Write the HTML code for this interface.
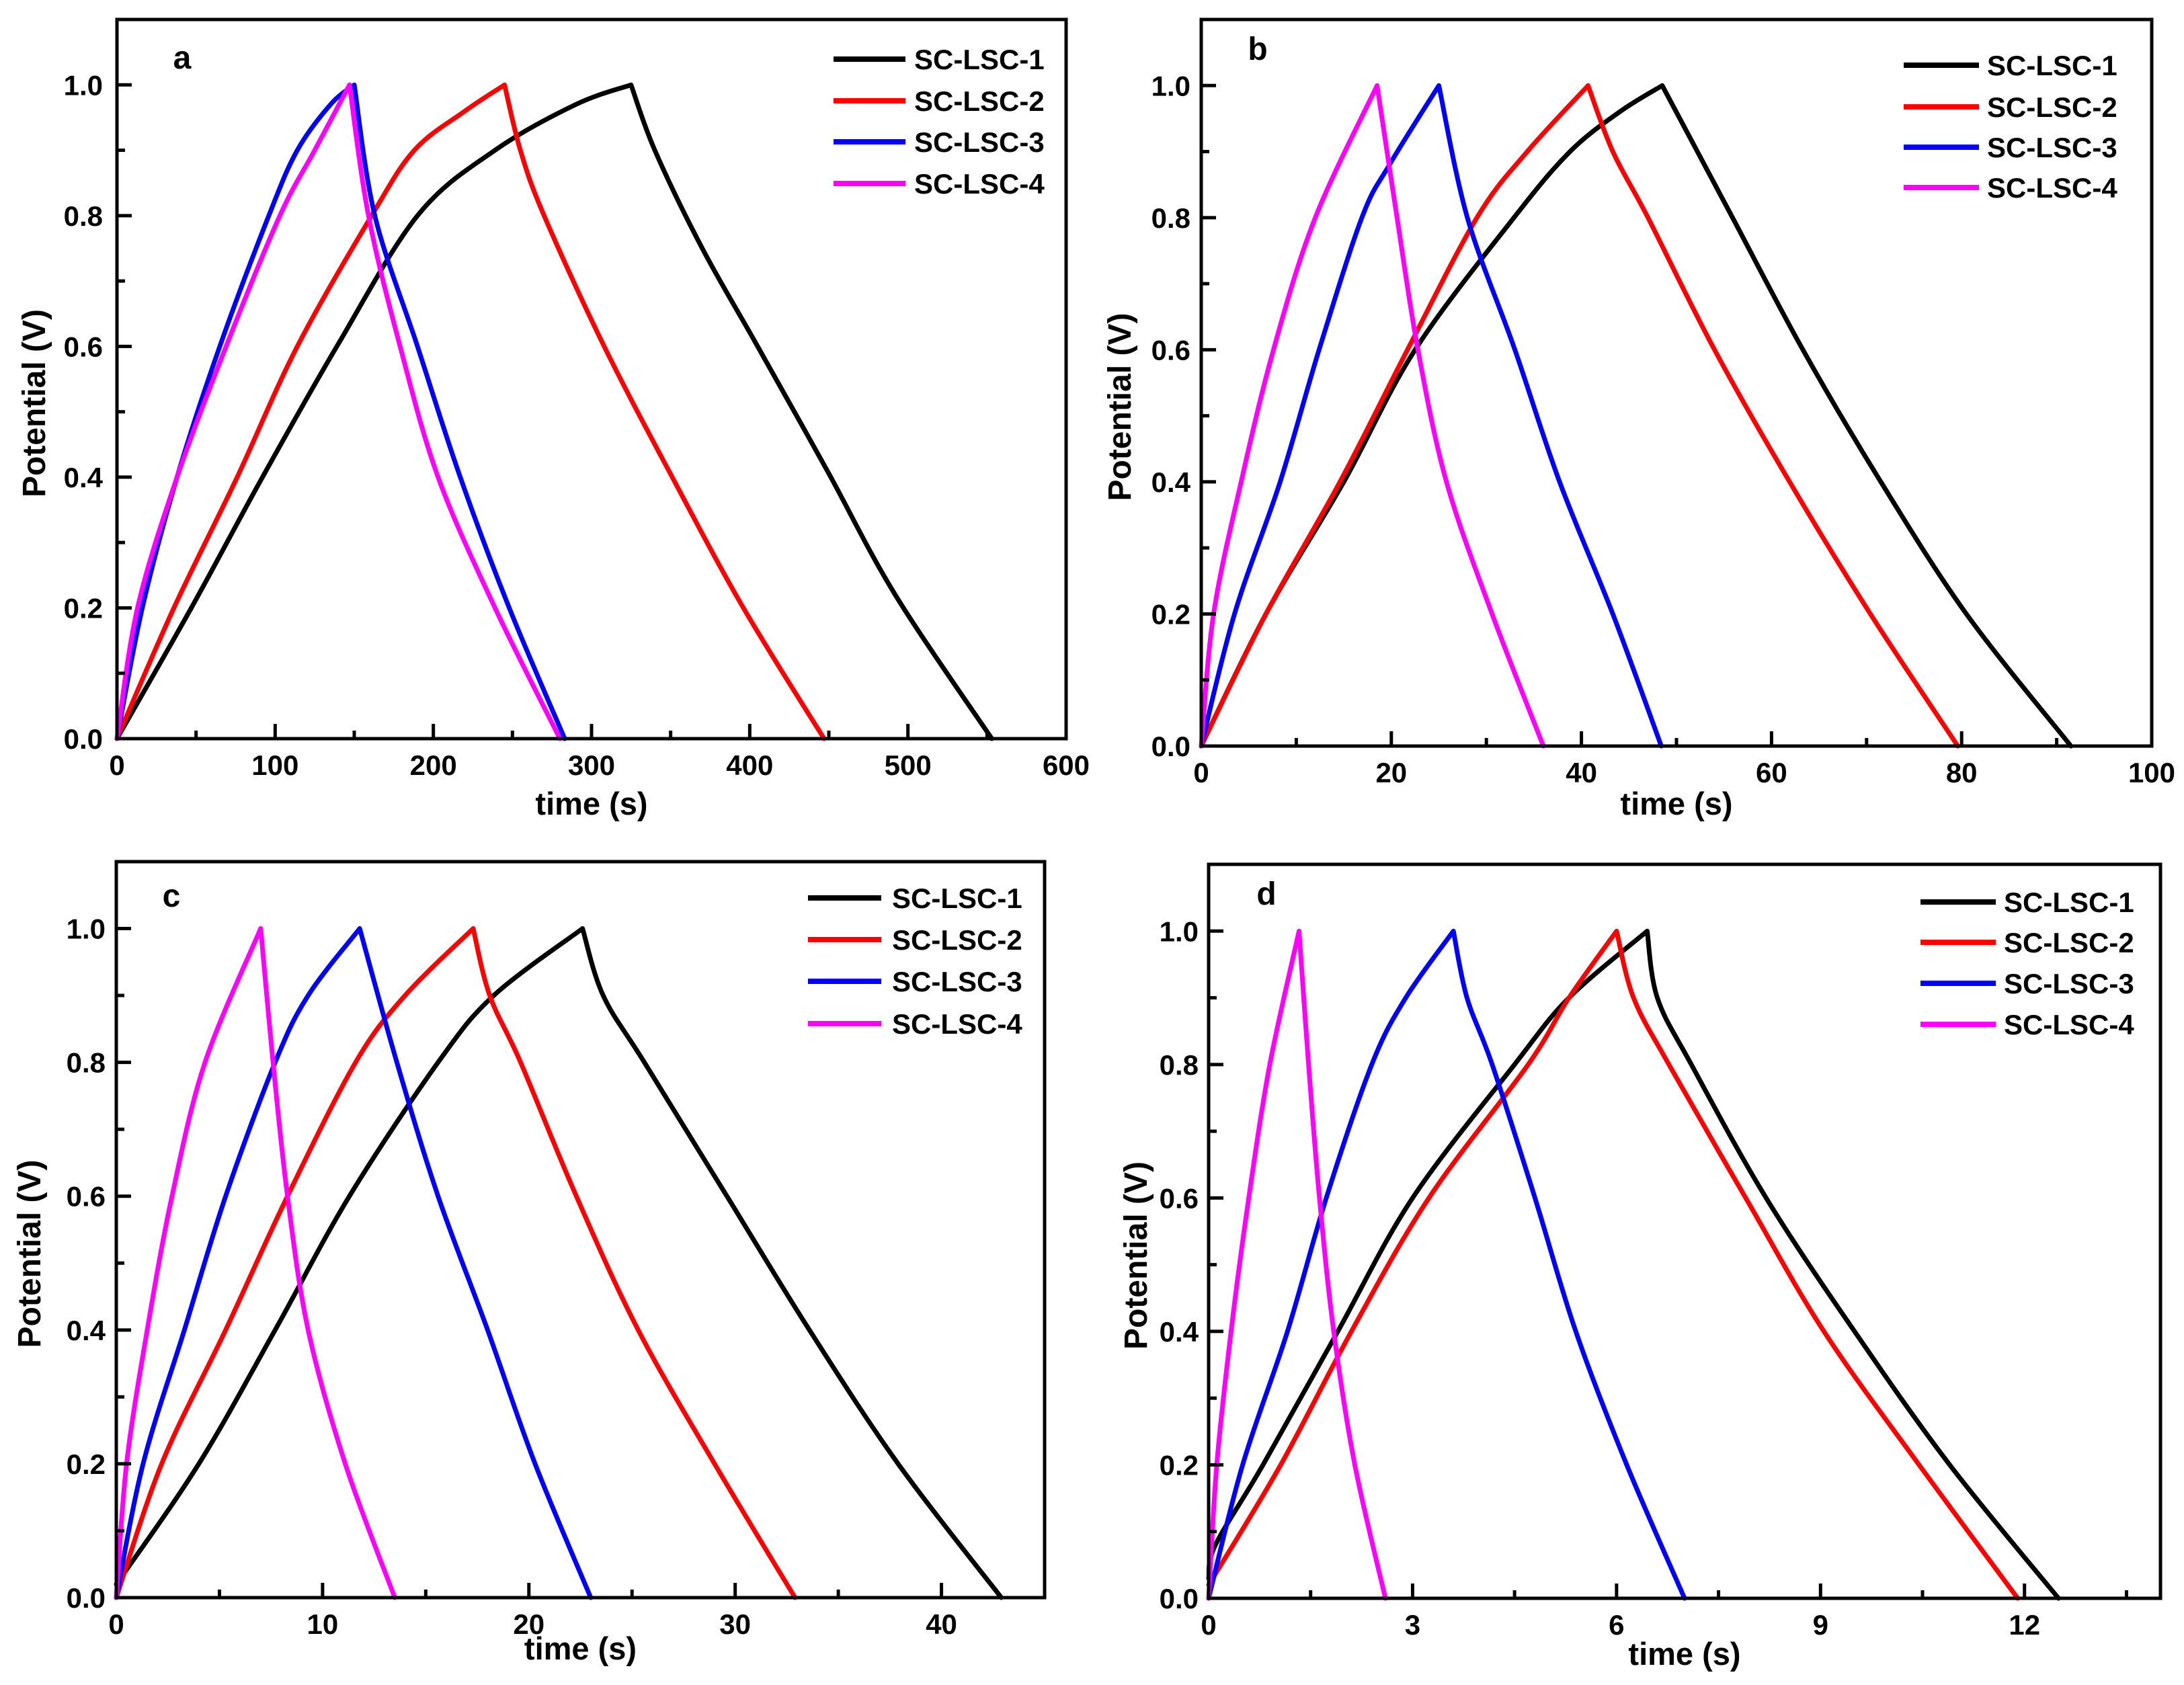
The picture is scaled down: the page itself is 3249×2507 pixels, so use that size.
<!DOCTYPE html>
<html><head><meta charset="utf-8"><style>
html,body{margin:0;padding:0;background:#fff;}
svg{display:block;font-family:"Liberation Sans",Arial,sans-serif;font-weight:bold;}
</style></head><body>
<svg id="fig" width="3249" height="2507" viewBox="0 0 3249 2507" xmlns="http://www.w3.org/2000/svg"></svg>
<script>
// ---- Panel a data (time s, potential V)
const aS1t=[0,47,92,139,190,239,290,325,340,370,405,449,492,553];
const aS1v=[0,0.2,0.4,0.6,0.8,0.9,0.97,1,0.9,0.75,0.6,0.41,0.22,0];
const aS2t=[0,36,76,114,161,188,220,245,255,270,308,351,396,447];
const aS2v=[0,0.2,0.4,0.6,0.8,0.9,0.96,1,0.9,0.8,0.6,0.4,0.2,0];
const aS3t=[0,16,38,65,96,114,135,150,163,190,217,248,283];
const aS3v=[0,0.2,0.4,0.6,0.8,0.9,0.97,1,0.8,0.6,0.4,0.2,0];
const aS4t=[0,13,38,69,103,125,147,159,179,203,239,280];
const aS4v=[0,0.2,0.4,0.6,0.8,0.9,1,0.8,0.6,0.4,0.2,0];
// ---- Panel b
const bS1t=[0,6.8,15,22.5,32.9,38.8,44,48.5,52.2,55.9,63.3,71.5,80.5,91.5];
const bS1v=[0,0.2,0.4,0.6,0.8,0.9,0.96,1,0.9,0.8,0.6,0.4,0.2,0];
const bS2t=[0,6.8,14.6,21.7,29,34.3,40.7,43.3,47,54,61.9,70.4,79.6];
const bS2v=[0,0.2,0.4,0.6,0.8,0.9,1,0.9,0.8,0.6,0.4,0.2,0];
const bS3t=[0,3.5,8.3,12.4,16.9,19.8,25,28,33,37.7,43.3,48.4];
const bS3v=[0,0.2,0.4,0.6,0.8,0.88,1,0.8,0.6,0.4,0.2,0];
const bS4t=[0,1.3,4.2,7.6,12,18.5,20.6,22.8,25.8,30.6,36];
const bS4v=[0,0.2,0.4,0.6,0.8,1,0.8,0.6,0.4,0.2,0];
// ---- Panel c
const cS1t=[0,4,7.7,11.3,15.6,18.3,22.6,23.6,25.6,29.6,33.6,37.9,42.9];
const cS1v=[0.02,0.2,0.4,0.6,0.8,0.9,1,0.9,0.8,0.6,0.4,0.2,0];
const cS2t=[0,2.2,5.3,8.3,11.6,14,17.3,18.1,19.6,22.3,25.3,29,32.9];
const cS2v=[0,0.2,0.4,0.6,0.8,0.9,1,0.9,0.8,0.6,0.4,0.2,0];
const cS3t=[0,1.3,3.3,5.3,7.7,9.3,11.8,13.6,15.6,18,20.3,23];
const cS3v=[0,0.2,0.4,0.6,0.8,0.9,1,0.8,0.6,0.4,0.2,0];
const cS4t=[0,0.5,1.5,2.7,4.3,7,7.6,8.3,9.3,11.1,13.5];
const cS4v=[0,0.2,0.4,0.6,0.8,1,0.8,0.6,0.4,0.2,0];
// ---- Panel d
const dS1t=[0,0.1,0.8,1.9,3.0,4.5,5.3,6.45,6.6,7.1,8.2,9.5,10.9,12.5];
const dS1v=[0.03,0.08,0.2,0.4,0.6,0.8,0.9,1,0.9,0.8,0.6,0.4,0.2,0];
const dS2t=[0,1.06,2.1,3.24,4.7,5.3,6,6.25,6.77,7.9,9.05,10.45,11.9];
const dS2v=[0.02,0.2,0.4,0.6,0.8,0.9,1,0.9,0.8,0.6,0.4,0.2,0];
const dS3t=[0,0.5,1.16,1.73,2.4,2.9,3.6,3.8,4.17,4.8,5.4,6.15,7.0];
const dS3v=[0,0.2,0.4,0.6,0.8,0.9,1,0.9,0.8,0.6,0.4,0.2,0];
const dS4t=[0,0.12,0.33,0.59,0.9,1.33,1.47,1.63,1.84,2.15,2.6];
const dS4v=[0,0.2,0.4,0.6,0.8,1,0.8,0.6,0.4,0.2,0];
// ---- Axes ticks
const aXTicks=[0,100,200,300,400,500,600];
const bXTicks=[0,20,40,60,80,100];
const cXTicks=[0,10,20,30,40];
const dXTicks=[0,3,6,9,12];
const yTicks=[0.0,0.2,0.4,0.6,0.8,1.0];
const seriesNames=["SC-LSC-1","SC-LSC-2","SC-LSC-3","SC-LSC-4"];
const seriesColors=["#000000","#ff0000","#0000ff","#ff00ff"];

const NS="http://www.w3.org/2000/svg";
const svg=document.getElementById('fig');
function mk(tag,attrs,parent){const e=document.createElementNS(NS,tag);for(const k in attrs)e.setAttribute(k,attrs[k]);(parent||svg).appendChild(e);return e;}

function smooth(P){
  let d='M'+P[0][0].toFixed(1)+','+P[0][1].toFixed(1);
  for(let i=0;i<P.length-1;i++){
    const p0=P[Math.max(0,i-1)],p1=P[i],p2=P[i+1],p3=P[Math.min(P.length-1,i+2)];
    const c1=[p1[0]+(p2[0]-p0[0])/6,p1[1]+(p2[1]-p0[1])/6];
    const c2=[p2[0]-(p3[0]-p1[0])/6,p2[1]-(p3[1]-p1[1])/6];
    d+=' C'+c1[0].toFixed(1)+','+c1[1].toFixed(1)+' '+c2[0].toFixed(1)+','+c2[1].toFixed(1)+' '+p2[0].toFixed(1)+','+p2[1].toFixed(1);
  }
  return d;
}

const panels=[
 {id:'a',L:174,T:29,R:1586,B:1099,xmax:600,xt:aXTicks,xminor:50,ylabR:153,xlabB:54,xtitle:113,ytx:50,
  leg:{x1:1240,x2:1347,tx:1360,ys:[88,150,211,273]},let:[271,86],
  data:[[aS1t,aS1v],[aS2t,aS2v],[aS3t,aS3v],[aS4t,aS4v]]},
 {id:'b',L:1787,T:29,R:3201,B:1110,xmax:100,xt:bXTicks,xminor:10,ylabR:1771,xlabB:54,xtitle:102,ytx:1665,
  leg:{x1:2832,x2:2944,tx:2956,ys:[97,159,219,279]},let:[1871,73],
  data:[[bS1t,bS1v],[bS2t,bS2v],[bS3t,bS3v],[bS4t,bS4v]]},
 {id:'c',L:173,T:1282,R:1554,B:2377,xmax:45,xt:cXTicks,xminor:5,ylabR:157,xlabB:54,xtitle:92,ytx:43,
  leg:{x1:1202,x2:1311,tx:1327,ys:[1336,1398,1460,1523]},let:[255,1333],
  data:[[cS1t,cS1v],[cS2t,cS2v],[cS3t,cS3v],[cS4t,cS4v]]},
 {id:'d',L:1798,T:1286,R:3214,B:2378,xmax:14,xt:dXTicks,xminor:1.5,ylabR:1783,xlabB:54,xtitle:99,ytx:1689,
  leg:{x1:2857,x2:2969,tx:2981,ys:[1342,1402,1463,1524]},let:[1884,1330],
  data:[[dS1t,dS1v],[dS2t,dS2v],[dS3t,dS3v],[dS4t,dS4v]]}
];

panels.forEach(p=>{
  const g=mk('g',{});
  
  
  const X=t=>p.L+(t/p.xmax)*(p.R-p.L);
  const Y=v=>p.B-(v/1.1)*(p.B-p.T);
  p.data.forEach((s,i)=>{
    const P=s[0].map((t,j)=>[X(t),Y(s[1][j])]);
    let pk=0;s[1].forEach((v,j)=>{if(v>s[1][pk])pk=j;});
    const d=smooth(P.slice(0,pk+1))+' '+smooth(P.slice(pk)).replace(/^M[^C]*/,'');
    const pl=mk('path',{d:d,fill:'none',stroke:seriesColors[i],'stroke-width':7,'stroke-linejoin':'round','stroke-linecap':'round'},g);
    
    
  });
  const fr=mk('rect',{x:p.L,y:p.T,width:p.R-p.L,height:p.B-p.T,fill:'none',stroke:'#000','stroke-width':5},g);
  
  
  for(let k=0;k<=10;k++){
    const v=k*0.1;const y=Y(v);const len=(k%2===0)?22:12;
    mk('line',{x1:p.L,y1:y,x2:p.L+len,y2:y,stroke:'#000','stroke-width':5},g);
  }
  yTicks.forEach(v=>{
    const t=mk('text',{x:p.ylabR,y:Y(v)+15,'text-anchor':'end','font-size':42},g);
    t.textContent=v.toFixed(1);
    
    
  });
  for(let t=0;t<=p.xmax+1e-9;t+=p.xminor){
    const x=X(t);const major=p.xt.some(m=>Math.abs(m-t)<1e-6);
    mk('line',{x1:x,y1:p.B,x2:x,y2:p.B-(major?22:12),stroke:'#000','stroke-width':5},g);
  }
  p.xt.forEach(v=>{
    const t=mk('text',{x:X(v),y:p.B+p.xlabB,'text-anchor':'middle','font-size':42},g);
    t.textContent=String(v);
    
    
  });
  const xt=mk('text',{x:(p.L+p.R)/2,y:p.B+p.xtitle,'text-anchor':'middle','font-size':47},g);
  xt.textContent='time (s)';
  
  
  const ycy=(p.T+p.B)/2+36;
  const yt=mk('text',{x:p.ytx,y:ycy,'text-anchor':'middle','font-size':48,transform:'rotate(-90 '+p.ytx+' '+ycy+') translate(0 17)'},g);
  yt.textContent='Potential (V)';
  
  
  const lt=mk('text',{x:p.let[0],y:p.let[1]+16,'text-anchor':'middle','font-size':48},g);
  lt.textContent=p.id;
  
  
  seriesNames.forEach((n,i)=>{
    const y=p.leg.ys[i];
    const ll=mk('line',{x1:p.leg.x1,y1:y,x2:p.leg.x2,y2:y,stroke:seriesColors[i],'stroke-width':8},g);
    
    
    const tx=mk('text',{x:p.leg.tx,y:y+15,'font-size':42},g);
    tx.textContent=n;
    
    
  });
});
</script>
</body></html>
